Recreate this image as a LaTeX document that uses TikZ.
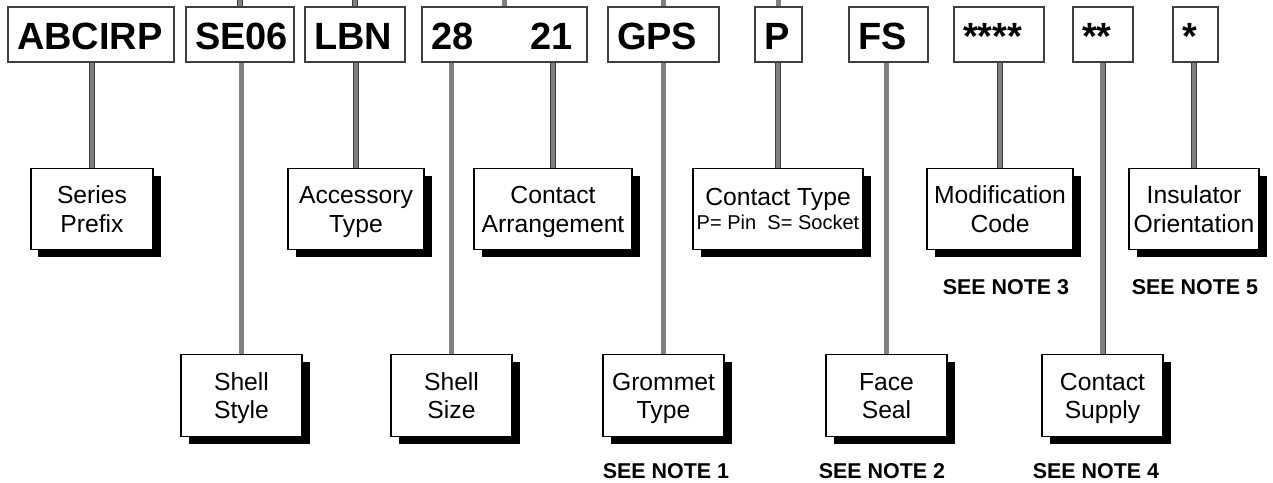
\documentclass[tikz,border=0pt]{standalone}
\usepackage{fontspec}
\setmainfont{Liberation Sans}
\usepackage{xcolor}
\definecolor{refGrisPoteau}{HTML}{808080}
\definecolor{refGrisTrait}{HTML}{3C3C3C}
\definecolor{refGrisCadre}{HTML}{404040}
\usepackage{tikz}
\usetikzlibrary{backgrounds, shadows}
\tikzset{
  %% ── Boites ───────────────────────────────────────────────────────────
  %% La ligne du code en gras, puis les libelles a ombre portee pleine.
  blocCode/.style    = {draw=refGrisCadre, line width=0.7pt, fill=white,
                        align=left, text width=#1, inner xsep=0.18cm,
                        inner ysep=0pt, minimum height=1.10cm,
                        text height=17.6pt, text depth=0pt,
                        font=\fontsize{21.6pt}{26pt}\selectfont\bfseries},
  blocLibelle/.style = {draw=black, line width=1.1pt, fill=white,
                        align=center, inner sep=0pt,
                        text height=26.3pt, text depth=0pt,
                        font=\fontsize{14.05pt}{16.2pt}\selectfont,
                        drop shadow={shadow xshift=0.15cm,
                                     shadow yshift=-0.15cm,
                                     fill=black, opacity=1}},
  %%
  %% ── Poteaux ──────────────────────────────────────────────────────────
  poteau/.style      = {draw=refGrisTrait, line width=0.55pt,
                        double=refGrisPoteau, double distance=2.3pt},
  %%
  %% ── Texte ────────────────────────────────────────────────────────────
  renvoi/.style      = {font=\fontsize{12.2pt}{14pt}\selectfont\bfseries,
                        anchor=base, inner sep=0pt},
}

\begin{document}
\begin{tikzpicture}[x=1cm, y=1cm]
\useasboundingbox (0,0) rectangle (25.46, 9.64);
\coordinate (haut) at (0, 9.64);

%% La reference, case par case.
\node[blocCode=2.96cm] (abc) at (1.82, 8.95)  {ABCIRP};
\node[blocCode=1.80cm] (se)  at (4.80, 8.95)  {SE06};
\node[blocCode=1.64cm] (lbn) at (7.10, 8.95)  {LBN};
\node[blocCode=2.94cm] (sz)  at (10.09, 8.95) {28\hspace{1.14cm}21};
\node[blocCode=1.86cm] (gps) at (13.27, 8.95) {GPS};
\node[blocCode=0.58cm] (ct)  at (15.57, 8.95) {P};
\node[blocCode=1.22cm] (fs)  at (17.77, 8.95) {FS};
\node[blocCode=1.44cm] (mod) at (19.98, 8.95) {****};
\node[blocCode=0.84cm] (sup) at (22.06, 8.95) {**};
\node[blocCode=0.54cm] (ins) at (23.91, 8.95) {*};

%% Libelles du haut.
\node[blocLibelle, minimum width=2.44cm, minimum height=1.62cm] (sp)  at (1.84, 5.46)
     {Series\\Prefix};
\node[blocLibelle, minimum width=2.72cm, minimum height=1.62cm] (at)  at (7.12, 5.46)
     {Accessory\\Type};
\node[blocLibelle, minimum width=3.16cm, minimum height=1.62cm] (ca)  at (11.06, 5.46)
     {Contact\\Arrangement};
\node[blocLibelle, minimum width=3.40cm, minimum height=1.62cm, text height=23.8pt] (ctl)
     at (15.56, 5.46)
     {Contact Type\\[-2.5pt]{\fontsize{11.4pt}{13.7pt}\selectfont P= Pin~ S= Socket}};
\node[blocLibelle, minimum width=2.92cm, minimum height=1.62cm] (mc)  at (20.00, 5.46)
     {Modification\\Code};
\node[blocLibelle, minimum width=2.60cm, minimum height=1.62cm] (io)  at (23.88, 5.46)
     {Insulator\\Orientation};

%% Libelles du bas.
\node[blocLibelle, minimum width=2.42cm, minimum height=1.64cm] (ss)  at (4.83, 1.73)
     {Shell\\Style};
\node[blocLibelle, minimum width=2.42cm, minimum height=1.64cm] (ssz) at (9.03, 1.73)
     {Shell\\Size};
\node[blocLibelle, minimum width=2.42cm, minimum height=1.64cm] (gt)  at (13.27, 1.73)
     {Grommet\\Type};
\node[blocLibelle, minimum width=2.42cm, minimum height=1.64cm] (fsl) at (17.73, 1.73)
     {Face\\Seal};
\node[blocLibelle, minimum width=2.42cm, minimum height=1.64cm] (cs)  at (22.05, 1.73)
     {Contact\\Supply};

%% Renvois aux notes.
\node[renvoi] (n3) at (20.12, 3.74) {SEE NOTE 3};
\node[renvoi] (n5) at (23.90, 3.74) {SEE NOTE 5};
\node[renvoi] (n1) at (13.32, 0.08) {SEE NOTE 1};
\node[renvoi] (n2) at (17.64, 0.08) {SEE NOTE 2};
\node[renvoi] (n4) at (21.92, 0.08) {SEE NOTE 4};

%% Les poteaux passent derriere les cases.
\begin{scope}[on background layer]
  \foreach \c/\l in {abc/sp, se/ss, lbn/at, sz/ssz, sz/ca, gps/gt,
                     ct/ctl, fs/fsl, mod/mc, sup/cs, ins/io}
    \draw[poteau] (\l.north) -- (\l.north |- \c.south);
  \foreach \c in {se, lbn, sz, gps, ct}
    \draw[poteau] (\c.north) -- (\c.north |- haut);
\end{scope}

\end{tikzpicture}
\end{document}
